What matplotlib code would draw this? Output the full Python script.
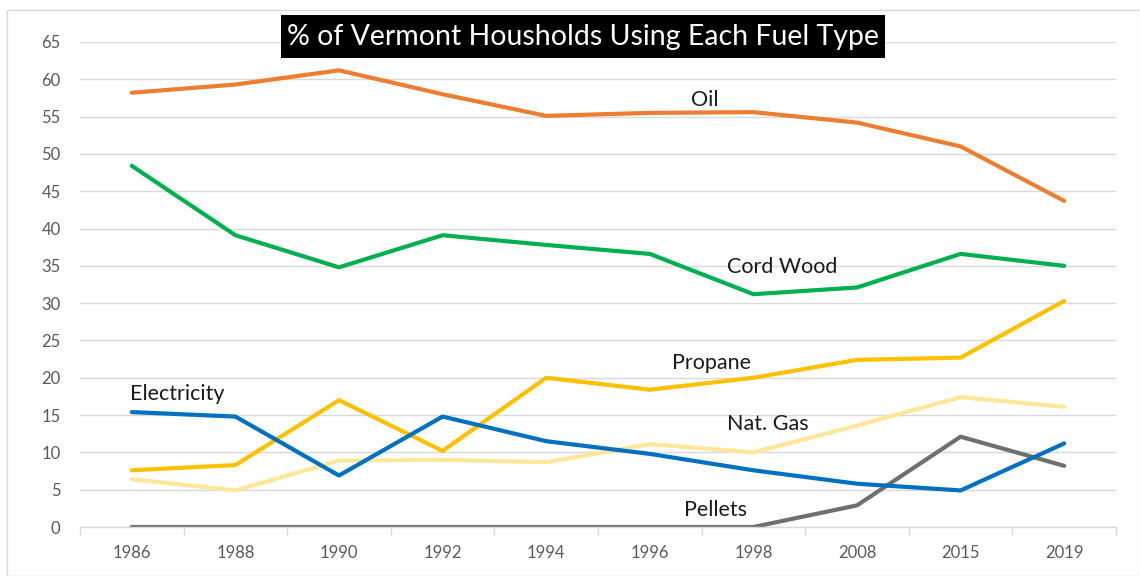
import numpy as np
import matplotlib.pyplot as plt
from matplotlib.patches import Rectangle

plt.rcParams['font.family'] = ['Lato', 'DejaVu Sans']

# data
years = ['1986', '1988', '1990', '1992', '1994', '1996', '1998', '2008', '2015', '2019']
oil = [58.2, 59.3, 61.2, 58.0, 55.1, 55.5, 55.6, 54.2, 51.0, 43.7]
cord_wood = [48.4, 39.1, 34.8, 39.1, 37.8, 36.6, 31.2, 32.1, 36.6, 35.0]
propane = [7.6, 8.3, 17.0, 10.2, 20.0, 18.4, 20.0, 22.4, 22.7, 30.3]
nat_gas = [6.4, 4.9, 8.9, 9.0, 8.7, 11.1, 10.0, 13.6, 17.4, 16.1]
electricity = [15.4, 14.8, 6.9, 14.8, 11.5, 9.8, 7.6, 5.8, 4.9, 11.2]
pellets = [0, 0, 0, 0, 0, 0, 0, 2.9, 12.1, 8.2]

fig = plt.figure(figsize=(11.4, 5.76), dpi=100)
ax = fig.add_axes([80/1140, 49/576, 1036/1140, 485/576])

x = np.arange(len(years))
lw = 3
ax.plot(x, nat_gas, color='#FFE699', lw=lw, solid_capstyle='round')
ax.plot(x, pellets, color='#6F6F6F', lw=lw, solid_capstyle='round')
ax.plot(x, propane, color='#FFC000', lw=lw, solid_capstyle='round')
ax.plot(x, electricity, color='#0070C0', lw=lw, solid_capstyle='round')
ax.plot(x, cord_wood, color='#00B050', lw=lw, solid_capstyle='round')
ax.plot(x, oil, color='#ED7D31', lw=lw, solid_capstyle='round')

# series labels
lab = dict(fontsize=15.5, color='#1a1a1a', ha='center', va='center')
ax.text(5.53, 57.2, 'Oil', **lab)
ax.text(6.28, 34.9, 'Cord Wood', **lab)
ax.text(5.6, 22.0, 'Propane', **lab)
ax.text(6.14, 13.8, 'Nat. Gas', **lab)
ax.text(0.44, 17.8, 'Electricity', **lab)
ax.text(5.63, 2.3, 'Pellets', **lab)

ax.set_xlim(-0.5, 9.5)
ax.set_ylim(0, 65)
ax.set_yticks(np.arange(0, 70, 5))
ax.set_xticks(x)
ax.set_xticklabels(years)
ax.set_xticks(np.arange(-0.5, 10, 1), minor=True)
ax.grid(axis='y', color='#D9D9D9', lw=1)
ax.set_axisbelow(True)
for s in ['top', 'right', 'left']:
    ax.spines[s].set_visible(False)
ax.spines['bottom'].set_color('#D9D9D9')
ax.spines['bottom'].set_linewidth(1)
ax.tick_params(axis='y', length=0, labelsize=12, labelcolor='#595959', pad=14)
ax.tick_params(axis='x', which='major', length=0, labelsize=12, labelcolor='#595959', pad=13)
ax.tick_params(axis='x', which='minor', length=6, color='#D9D9D9', width=1)

# title in black box
fig.patches.append(Rectangle((281/1140, 1 - 58/576), 604/1140, 43/576, transform=fig.transFigure,
                             facecolor='black', edgecolor='none', zorder=5))
fig.text(583/1140, 1 - 37/576, '% of Vermont Housholds Using Each Fuel Type',
         fontsize=20.5, color='white', ha='center', va='center', zorder=6)

# chart border
fig.patches.append(Rectangle((7/1140, 0), 1 - 7/1140, 1 - 10/576, transform=fig.transFigure,
                             fill=False, edgecolor='#D9D9D9', lw=1))

plt.savefig('out.png', dpi=100)
